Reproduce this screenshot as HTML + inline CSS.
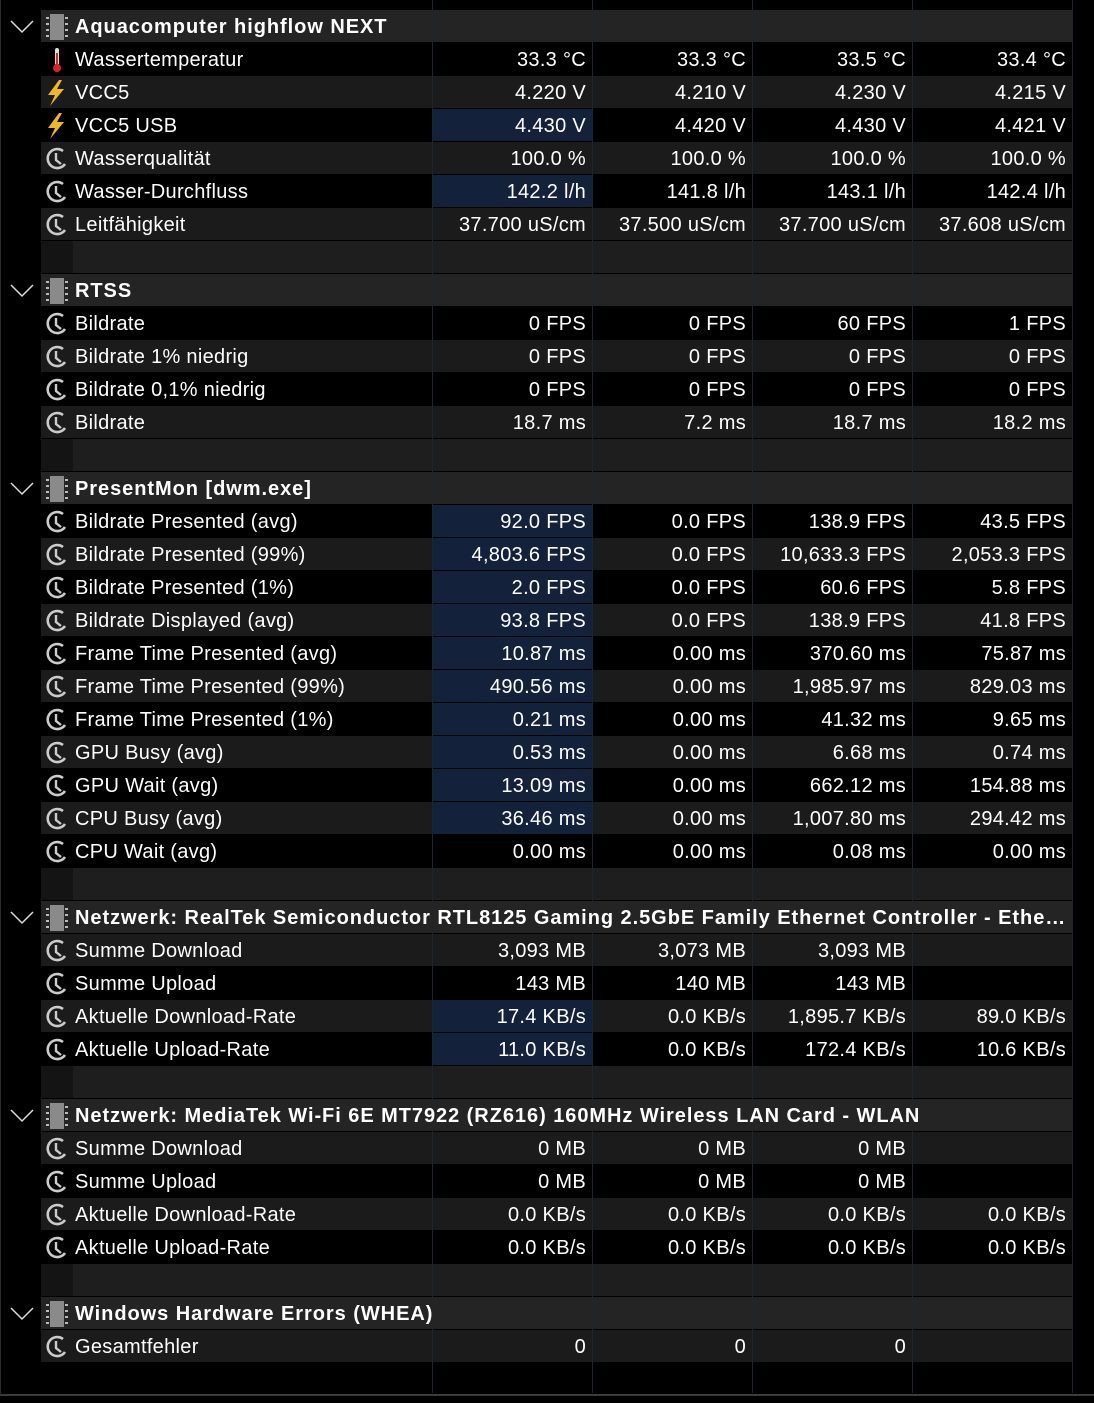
<!DOCTYPE html>
<html><head><meta charset="utf-8"><style>
html,body{margin:0;padding:0;background:#000;}
body{width:1094px;height:1403px;position:relative;overflow:hidden;font-family:"Liberation Sans",sans-serif;color:#fff;}
.row{position:absolute;left:0;width:1094px;height:33px;}
.cell{position:absolute;top:0;height:32px;line-height:34px;font-size:20px;white-space:nowrap;box-sizing:border-box;letter-spacing:0.3px;}
.val{text-align:right;padding-right:6px;width:160px;}
.lbl{left:75px;}
.hdr{font-weight:bold;overflow:hidden;text-overflow:ellipsis;width:997px;letter-spacing:0.95px;z-index:3;}
.hdr span{background:#242424;}
.vline{position:absolute;top:0;width:1px;height:1393px;background:#1c2530;z-index:2;}
.icon{position:absolute;left:44px;top:4px;width:26px;height:26px;}
.chev{position:absolute;left:10px;top:10px;}
</style></head><body>
<div id="grid"></div>
<div style="position:absolute;left:0;top:1394px;width:1094px;height:2px;background:#3c3c3c"></div>
<div style="position:absolute;left:0;top:0;width:1px;height:1395px;background:#2a2a2a"></div>
<script>
const labels = [
["h","Aquacomputer highflow NEXT"],
["t","Wassertemperatur"],["b","VCC5"],["b","VCC5 USB"],["c","Wasserqualität"],["c","Wasser-Durchfluss"],["c","Leitfähigkeit"],
["e",""],
["h","RTSS"],
["c","Bildrate"],["c","Bildrate 1% niedrig"],["c","Bildrate 0,1% niedrig"],["c","Bildrate"],
["e",""],
["h","PresentMon [dwm.exe]"],
["c","Bildrate Presented (avg)"],["c","Bildrate Presented (99%)"],["c","Bildrate Presented (1%)"],["c","Bildrate Displayed (avg)"],["c","Frame Time Presented (avg)"],["c","Frame Time Presented (99%)"],["c","Frame Time Presented (1%)"],["c","GPU Busy (avg)"],["c","GPU Wait (avg)"],["c","CPU Busy (avg)"],["c","CPU Wait (avg)"],
["e",""],
["h","Netzwerk: RealTek Semiconductor RTL8125 Gaming 2.5GbE Family Ethernet Controller - Ethernet"],
["c","Summe Download"],["c","Summe Upload"],["c","Aktuelle Download-Rate"],["c","Aktuelle Upload-Rate"],
["e",""],
["h","Netzwerk: MediaTek Wi-Fi 6E MT7922 (RZ616) 160MHz Wireless LAN Card - WLAN"],
["c","Summe Download"],["c","Summe Upload"],["c","Aktuelle Download-Rate"],["c","Aktuelle Upload-Rate"],
["e",""],
["h","Windows Hardware Errors (WHEA)"],
["c","Gesamtfehler"]
];
const values = {
1:["33.3 °C","33.3 °C","33.5 °C","33.4 °C"],2:["4.220 V","4.210 V","4.230 V","4.215 V"],3:["4.430 V","4.420 V","4.430 V","4.421 V"],
4:["100.0 %","100.0 %","100.0 %","100.0 %"],5:["142.2 l/h","141.8 l/h","143.1 l/h","142.4 l/h"],6:["37.700 uS/cm","37.500 uS/cm","37.700 uS/cm","37.608 uS/cm"],
9:["0 FPS","0 FPS","60 FPS","1 FPS"],10:["0 FPS","0 FPS","0 FPS","0 FPS"],11:["0 FPS","0 FPS","0 FPS","0 FPS"],12:["18.7 ms","7.2 ms","18.7 ms","18.2 ms"],
15:["92.0 FPS","0.0 FPS","138.9 FPS","43.5 FPS"],16:["4,803.6 FPS","0.0 FPS","10,633.3 FPS","2,053.3 FPS"],17:["2.0 FPS","0.0 FPS","60.6 FPS","5.8 FPS"],
18:["93.8 FPS","0.0 FPS","138.9 FPS","41.8 FPS"],19:["10.87 ms","0.00 ms","370.60 ms","75.87 ms"],20:["490.56 ms","0.00 ms","1,985.97 ms","829.03 ms"],
21:["0.21 ms","0.00 ms","41.32 ms","9.65 ms"],22:["0.53 ms","0.00 ms","6.68 ms","0.74 ms"],23:["13.09 ms","0.00 ms","662.12 ms","154.88 ms"],
24:["36.46 ms","0.00 ms","1,007.80 ms","294.42 ms"],25:["0.00 ms","0.00 ms","0.08 ms","0.00 ms"],
28:["3,093 MB","3,073 MB","3,093 MB",""],29:["143 MB","140 MB","143 MB",""],30:["17.4 KB/s","0.0 KB/s","1,895.7 KB/s","89.0 KB/s"],31:["11.0 KB/s","0.0 KB/s","172.4 KB/s","10.6 KB/s"],
34:["0 MB","0 MB","0 MB",""],35:["0 MB","0 MB","0 MB",""],36:["0.0 KB/s","0.0 KB/s","0.0 KB/s","0.0 KB/s"],37:["0.0 KB/s","0.0 KB/s","0.0 KB/s","0.0 KB/s"],
40:["0","0","0",""]
};
const highlighted = [3,5,15,16,17,18,19,20,21,22,23,24,30,31];
const colX = [432,592,752,912];

const grid = document.getElementById('grid');
const icons = {
t:'<svg width="26" height="26"><rect x="11" y="1" width="4" height="17" rx="2" fill="#ddd"/><rect x="12" y="6" width="2" height="13" fill="#d22"/><circle cx="13" cy="21" r="4" fill="#d22"/></svg>',
b:'<svg width="26" height="26"><polygon points="15,0 4,15 11,15 6,26 20,9 13,9 18,0" fill="#f0b820"/></svg>',
c:'<svg width="26" height="26"><path d="M19 5 A9.5 9.5 0 1 0 21 18" stroke="#ccc" stroke-width="2.6" fill="none"/><path d="M12 7 V14 L17 18" stroke="#ccc" stroke-width="2.4" fill="none"/></svg>',
h:'<svg width="26" height="26"><rect x="6" y="0" width="14" height="26" fill="#8a8a8a"/><g fill="#bbb"><rect x="2" y="3" width="3" height="2"/><rect x="2" y="9" width="3" height="2"/><rect x="2" y="15" width="3" height="2"/><rect x="2" y="21" width="3" height="2"/><rect x="21" y="3" width="3" height="2"/><rect x="21" y="9" width="3" height="2"/><rect x="21" y="15" width="3" height="2"/><rect x="21" y="21" width="3" height="2"/></g></svg>'
};
labels.forEach((r,i)=>{
  const [type,text]=r;
  const row=document.createElement('div');
  row.className='row';
  row.style.top=(10+i*33)+'px';
  
  
  let bgLabel, bgIcon;
  if(type==='h'){bgLabel='#242424';bgIcon='#242424';}
  else if(type==='e'){bgLabel='#1e1e1e';bgIcon='#141414';}
  else {bgLabel=(i%2===0)?'#1b1b1b':'#000';bgIcon=bgLabel;}
  let html='<div style="position:absolute;left:41px;top:0;width:32px;height:32px;background:'+bgIcon+'"></div>';
  html+='<div style="position:absolute;left:73px;top:0;width:999px;height:32px;background:'+bgLabel+'"></div>';
  if(type!=='e'){
    html+='<div class="icon">'+icons[type]+'</div>';
  }
  if(type==='h'){
    html+='<svg class="chev" width="24" height="14"><polyline points="1,1 12,12 23,1" stroke="#ddd" stroke-width="1.5" fill="none"/></svg>';
  }
  row.innerHTML=html;
  if(type==='h'){
    const t=document.createElement('div');
    t.className='cell lbl hdr';
    t.innerHTML='<span></span>';
    t.firstChild.textContent=text;
    
    
    row.appendChild(t);
  } else if(type!=='e'){
    const t=document.createElement('div');
    t.className='cell lbl';
    t.textContent=text;
    
    
    row.appendChild(t);
    const v=values[i]||[];
    colX.forEach((x,k)=>{
      const c=document.createElement('div');
      c.className='cell val';
      c.style.left=x+'px';
      if(k===0 && highlighted.includes(i)) c.style.background='#14213a';
      c.textContent=v[k]||'';
      
      
      row.appendChild(c);
    });
  }
  grid.appendChild(row);
});
[432,592,752,912,1072].forEach(x=>{
  const l=document.createElement('div');
  l.className='vline';
  l.style.left=x+'px';
  
  
  grid.appendChild(l);
});
</script>
</body></html>
